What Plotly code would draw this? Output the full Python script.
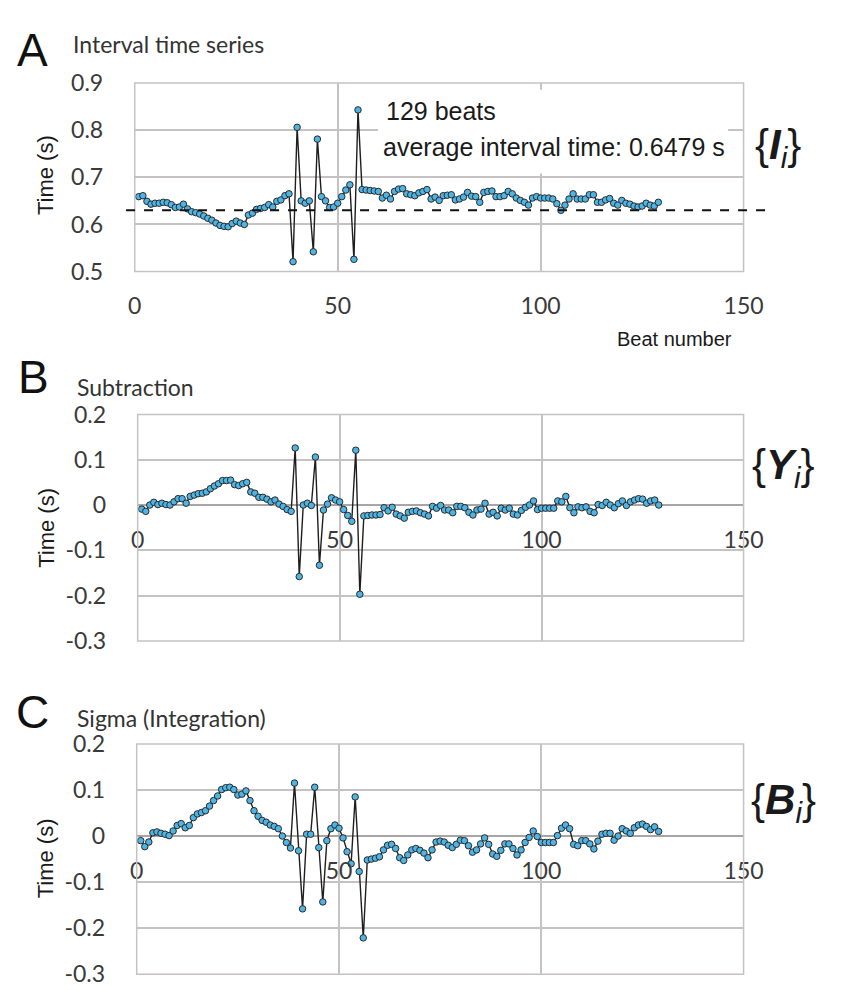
import plotly.graph_objects as go

# ---- data -----------------------------------------------------------------
beats = list(range(1, 130))

interval_s = [
    0.659, 0.661, 0.649, 0.643, 0.645, 0.645, 0.647, 0.646, 0.642, 0.636,
    0.637, 0.643, 0.633, 0.627, 0.625, 0.622, 0.618, 0.613, 0.609, 0.603,
    0.598, 0.596, 0.595, 0.602, 0.607, 0.603, 0.600, 0.620, 0.624, 0.632,
    0.634, 0.636, 0.642, 0.637, 0.649, 0.652, 0.661, 0.665, 0.521, 0.806,
    0.650, 0.645, 0.650, 0.542, 0.781, 0.659, 0.650, 0.636, 0.637, 0.645,
    0.659, 0.673, 0.684, 0.526, 0.843, 0.674, 0.673, 0.672, 0.671, 0.670,
    0.656, 0.662, 0.654, 0.670, 0.675, 0.676, 0.665, 0.663, 0.661, 0.667,
    0.670, 0.674, 0.654, 0.658, 0.651, 0.661, 0.662, 0.663, 0.652, 0.654,
    0.658, 0.668, 0.660, 0.659, 0.647, 0.668, 0.670, 0.671, 0.659, 0.659,
    0.661, 0.670, 0.665, 0.656, 0.651, 0.647, 0.641, 0.656, 0.659, 0.656,
    0.656, 0.656, 0.654, 0.644, 0.630, 0.641, 0.654, 0.665, 0.654, 0.654,
    0.654, 0.663, 0.663, 0.647, 0.647, 0.652, 0.655, 0.645, 0.641, 0.651,
    0.645, 0.643, 0.639, 0.637, 0.639, 0.645, 0.641, 0.639, 0.647,
]

subtraction_s = [
    -0.009, -0.014, 0.000, 0.006, 0.001, 0.004, 0.001, 0.000, 0.007, 0.014,
    0.014, 0.004, 0.019, 0.022, 0.025, 0.026, 0.029, 0.036, 0.042, 0.047,
    0.054, 0.054, 0.055, 0.045, 0.043, 0.047, 0.050, 0.029, 0.026, 0.017,
    0.017, 0.013, 0.007, 0.011, 0.002, -0.003, -0.010, -0.014, 0.126, -0.158,
    0.000, 0.004, -0.001, 0.106, -0.133, -0.011, 0.002, 0.016, 0.011, 0.007,
    -0.010, -0.023, -0.036, 0.121, -0.197, -0.024, -0.023, -0.022, -0.022, -0.021,
    -0.006, -0.013, -0.005, -0.020, -0.024, -0.029, -0.016, -0.014, -0.013, -0.017,
    -0.020, -0.024, -0.003, -0.007, -0.001, -0.011, -0.011, -0.017, -0.003, -0.003,
    -0.006, -0.016, -0.022, -0.011, -0.009, 0.004, -0.020, -0.016, -0.024, -0.007,
    -0.011, -0.007, -0.020, -0.022, -0.012, -0.005, 0.000, 0.009, -0.010, -0.007,
    -0.007, -0.007, -0.007, 0.009, 0.007, 0.019, -0.006, -0.017, -0.004, -0.006,
    -0.004, -0.014, -0.017, 0.001, -0.001, 0.006, 0.000, -0.006, 0.003, 0.009,
    -0.001, 0.007, 0.011, 0.014, 0.013, 0.004, 0.009, 0.011, 0.000,
]

sigma_s = [
    -0.010, -0.023, -0.013, 0.007, 0.009, 0.006, 0.004, 0.001, 0.011, 0.023,
    0.027, 0.018, 0.023, 0.040, 0.048, 0.051, 0.055, 0.065, 0.077, 0.087,
    0.101, 0.105, 0.106, 0.101, 0.089, 0.091, 0.098, 0.077, 0.055, 0.043,
    0.034, 0.030, 0.024, 0.021, 0.016, 0.000, -0.014, -0.026, 0.115, -0.032,
    -0.158, 0.004, 0.004, 0.106, -0.025, -0.143, -0.010, 0.016, 0.024, 0.017,
    -0.004, -0.034, -0.060, 0.085, -0.077, -0.221, -0.052, -0.050, -0.048, -0.045,
    -0.030, -0.020, -0.018, -0.027, -0.047, -0.053, -0.041, -0.030, -0.027, -0.031,
    -0.037, -0.047, -0.030, -0.013, -0.011, -0.013, -0.020, -0.025, -0.018, -0.009,
    -0.010, -0.021, -0.035, -0.030, -0.017, -0.004, -0.018, -0.039, -0.044, -0.031,
    -0.017, -0.017, -0.027, -0.041, -0.030, -0.014, -0.003, 0.011, -0.001, -0.014,
    -0.014, -0.014, -0.014, 0.001, 0.017, 0.024, 0.016, -0.018, -0.021, -0.010,
    -0.010, -0.017, -0.028, -0.011, 0.004, 0.006, 0.006, -0.009, 0.000, 0.016,
    0.011, 0.006, 0.018, 0.024, 0.026, 0.021, 0.014, 0.020, 0.010,
]

mean_line_s = 0.63
x_ticks = [0, 50, 100, 150]
y_ticks_a = [0.5, 0.6, 0.7, 0.8, 0.9]
y_ticks_bc = [-0.3, -0.2, -0.1, 0, 0.1, 0.2]

# ---- page geometry (pixels of an 841 x 996 page) ---------------------------
W, H = 841, 996


def px(x):
    return x / W


def py(y):
    return 1 - y / H


GRID = "#c6c2c2"
TICK_FONT = dict(family="Lato", size=23, color="#3a3a3a")
ARIAL = "Liberation Sans"

dom_a = dict(x=[px(132), px(761)], y=[py(264), py(70)])
dom_b = dict(x=[px(135), px(761)], y=[py(644), py(411)])
dom_c = dict(x=[px(134), px(761)], y=[py(987), py(750)])

fig = go.Figure()

series = [(interval_s, "x", "y"), (subtraction_s, "x2", "y2"), (sigma_s, "x3", "y3")]
for vals, xa, ya in series:
    fig.add_trace(go.Scatter(
        x=beats, y=vals, xaxis=xa, yaxis=ya, mode="lines+markers",
        line=dict(color="#1e1e1e", width=1.4),
        marker=dict(size=6.5, color="#4db4e4", line=dict(color="#2a2a2a", width=1)),
        showlegend=False, hoverinfo="skip",
    ))

common_x = dict(range=[0, 150], tickvals=x_ticks, showgrid=True, gridcolor=GRID,
                gridwidth=1.5, zeroline=False, showline=False, tickfont=TICK_FONT,
                ticks="outside", tickcolor="rgba(0,0,0,0)")
common_y = dict(showgrid=True, gridcolor=GRID, gridwidth=1.5, showline=False,
                tickfont=TICK_FONT, ticks="outside", tickcolor="rgba(0,0,0,0)",
                ticklen=26)


def zero_pos(dom):
    lo, hi = dom["y"]
    return lo + (0.3 / 0.5) * (hi - lo)


fig.update_layout(
    width=W, height=H, margin=dict(l=0, r=0, t=0, b=0),
    paper_bgcolor="white", plot_bgcolor="white",
    xaxis=dict(domain=dom_a["x"], anchor="y", ticklen=14, **common_x),
    yaxis=dict(domain=dom_a["y"], anchor="x", range=[0.5, 0.9], tickvals=y_ticks_a,
               ticktext=[f"{v:.1f}" for v in y_ticks_a], zeroline=False, **common_y),
    xaxis2=dict(domain=dom_b["x"], anchor="free", position=zero_pos(dom_b),
                ticklen=14, **common_x),
    yaxis2=dict(domain=dom_b["y"], anchor="x2", range=[-0.3, 0.2], tickvals=y_ticks_bc,
                ticktext=["-0.3", "-0.2", "-0.1", "0", "0.1", "0.2"],
                zeroline=True, zerolinecolor="#a9a5a5", zerolinewidth=2, **common_y),
    xaxis3=dict(domain=dom_c["x"], anchor="free", position=zero_pos(dom_c),
                ticklen=14, **common_x),
    yaxis3=dict(domain=dom_c["y"], anchor="x3", range=[-0.3, 0.2], tickvals=y_ticks_bc,
                ticktext=["-0.3", "-0.2", "-0.1", "0", "0.1", "0.2"],
                zeroline=True, zerolinecolor="#a9a5a5", zerolinewidth=2, **common_y),
)

shapes = []
# plot frames
for xa, ya in [("x", "y"), ("x2", "y2"), ("x3", "y3")]:
    shapes.append(dict(type="rect", xref=f"{xa} domain", yref=f"{ya} domain",
                       x0=0, x1=1, y0=0, y1=1, line=dict(color=GRID, width=1.5),
                       fillcolor="rgba(0,0,0,0)", layer="above"))
# white panel behind the summary text
shapes.append(dict(type="rect", xref="x", yref="y", x0=59.9, x1=146.2,
                   y0=0.708, y1=0.8856, fillcolor="white",
                   line=dict(width=0), layer="between"))
# average interval line
shapes.append(dict(type="line", xref="paper", yref="y", x0=px(123), x1=px(792),
                   y0=mean_line_s, y1=mean_line_s,
                   line=dict(color="#111111", width=2, dash="dash"), layer="above"))
fig.update_layout(shapes=shapes)

ann = []


def text(x, y, s, size, family=ARIAL, color="#1a1a1a", xanchor="left", angle=0):
    ann.append(dict(x=px(x), y=py(y), xref="paper", yref="paper", text=s,
                    showarrow=False, xanchor=xanchor, yanchor="middle",
                    textangle=angle, font=dict(family=family, size=size, color=color)))


# panel letters and titles
text(8, 36, "A", 46, color="#111111")
text(66, 30, "Interval time series", 23, family="Lato", color="#333333")
text(9, 372, "B", 46, color="#111111")
text(70, 383, "Subtraction", 23, family="Lato", color="#333333")
text(7, 717, "C", 46, color="#111111")
text(70, 723, "Sigma (Integration)", 23, family="Lato", color="#333333")

# axis titles
for yc in (165, 528, 868):
    text(40, yc, "Time (s)", 22, xanchor="center", angle=-90)
text(690, 333, "Beat number", 20, xanchor="center")

# summary text
text(390, 99, "129 beats", 25)
text(386, 136, "average interval time: 0.6479 s", 25)

# series symbols
text(797, 136, "{<b><i>I</i></b><sub><i>i</i></sub>}", 42, xanchor="center")
text(802, 466, "{<b><i>Y</i></b><sub><i>i</i></sub>}", 42, xanchor="center")
text(802, 810, "{<b><i>B</i></b><sub><i>i</i></sub>}", 42, xanchor="center")

fig.update_layout(annotations=ann)

fig.write_html("out.html")
